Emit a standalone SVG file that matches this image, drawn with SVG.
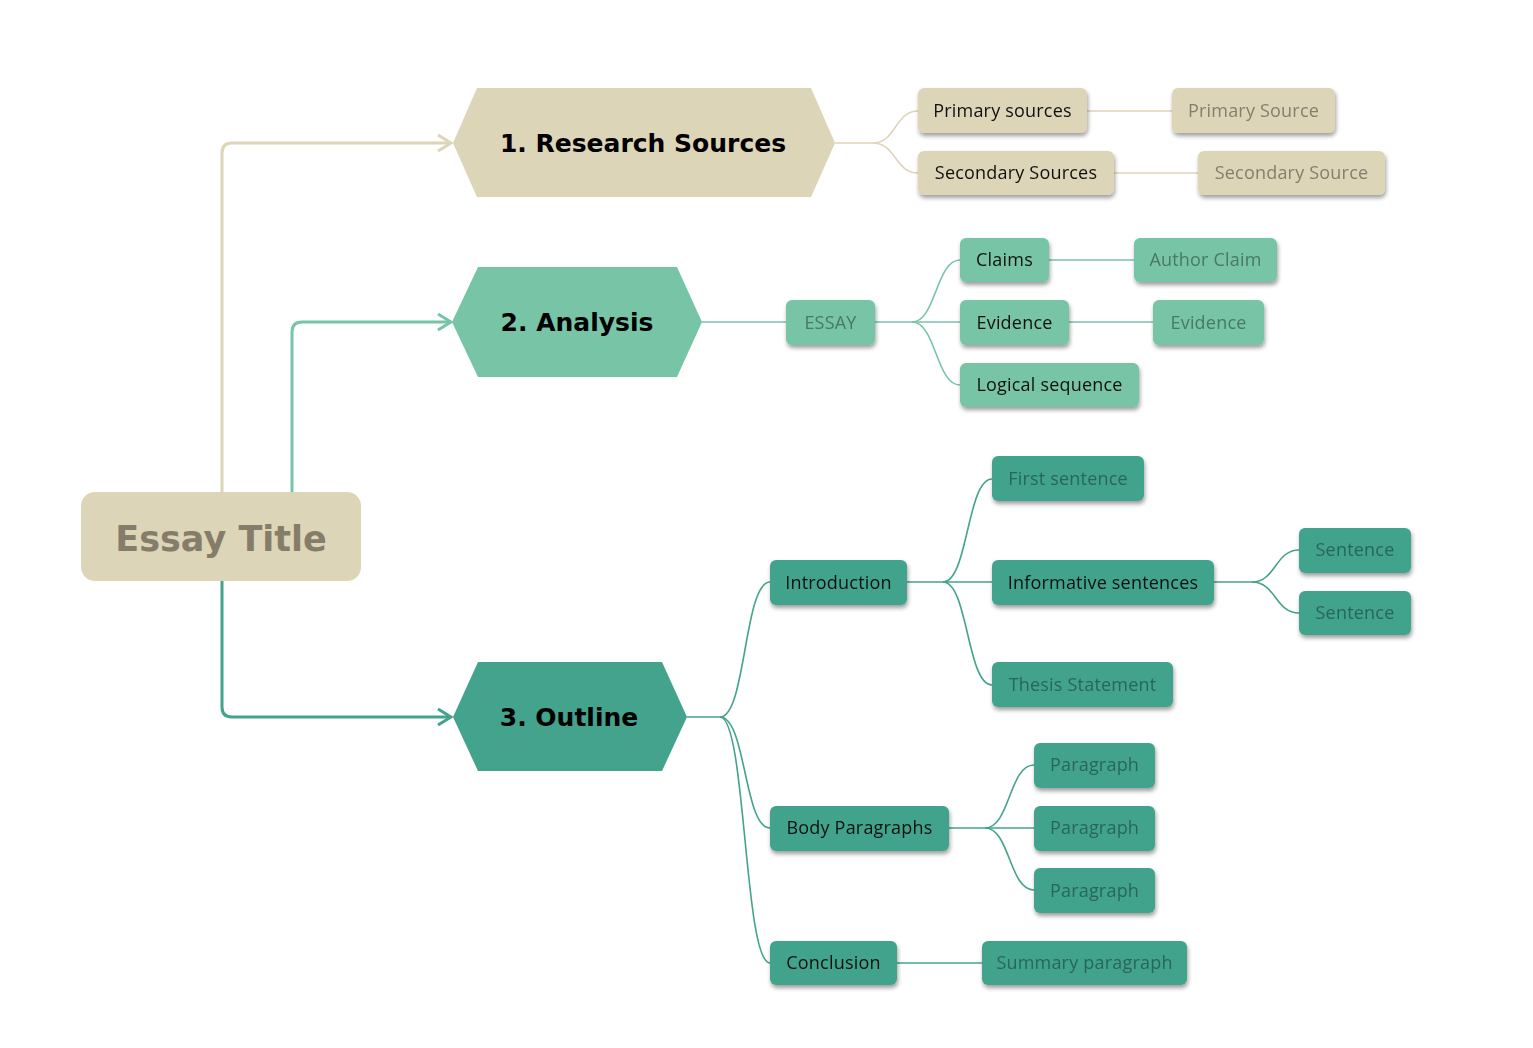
<svg xmlns="http://www.w3.org/2000/svg" width="1533" height="1048" viewBox="0 0 1533 1048">
<defs>
<style>
.hex{font-family:"DejaVu Sans",Verdana,sans-serif;font-weight:bold;font-size:25px;fill:#000;text-anchor:middle}
.t{font-family:"Open Sans","Noto Sans",sans-serif;font-size:18px;letter-spacing:0.2px;text-anchor:middle}
.dk{fill:#111}
.lb{fill:#857e6c}
.lg{fill:#4a7866}
.lt{fill:#28665a}
.fb{fill:#ddd5b8}
.fg{fill:#77c5a6}
.ft{fill:#43a38d}
.cb{fill:none;stroke:#ddd5b8}
.cg{fill:none;stroke:#77c5a6}
.ct{fill:none;stroke:#43a38d}
.thin{stroke-width:1.6}
.thick{stroke-width:3}
</style>
<filter id="sh" x="-10%" y="-20%" width="130%" height="160%">
<feDropShadow dx="1" dy="3" stdDeviation="2" flood-color="#000" flood-opacity="0.38"/>
</filter>
<marker id="ab" markerWidth="16" markerHeight="20" refX="14" refY="10" orient="auto" markerUnits="userSpaceOnUse">
<path d="M1,2 L14,10 L1,18" fill="none" stroke="#ddd5b8" stroke-width="3"/>
</marker>
<marker id="ag" markerWidth="16" markerHeight="20" refX="14" refY="10" orient="auto" markerUnits="userSpaceOnUse">
<path d="M1,2 L14,10 L1,18" fill="none" stroke="#77c5a6" stroke-width="3"/>
</marker>
<marker id="at" markerWidth="16" markerHeight="20" refX="14" refY="10" orient="auto" markerUnits="userSpaceOnUse">
<path d="M1,2 L14,10 L1,18" fill="none" stroke="#43a38d" stroke-width="3"/>
</marker>
</defs>
<rect width="1533" height="1048" fill="#fff"/>

<g id="connectors">
<path class="cb thick" d="M222,492 V153 Q222,143 232,143 H451" marker-end="url(#ab)"/>
<path class="cg thick" d="M292,492 V332 Q292,322 302,322 H451" marker-end="url(#ag)"/>
<path class="ct thick" d="M222,581 V707 Q222,717 232,717 H451" marker-end="url(#at)"/>

<path class="cb thin" d="M835,143 H873 C896,143 895,111 918,111"/>
<path class="cb thin" d="M873,143 C896,143 895,173 918,173"/>
<path class="cb thin" d="M1087,111 H1172"/>
<path class="cb thin" d="M1114,173 H1198"/>

<path class="cg thin" d="M702,322 H786"/>
<path class="cg thin" d="M875,322 H960"/>
<path class="cg thin" d="M912,322 C936,322 936,260 960,260"/>
<path class="cg thin" d="M912,322 C936,322 936,385 960,385"/>
<path class="cg thin" d="M1049,260 H1134"/>
<path class="cg thin" d="M1069,322 H1153"/>

<path class="ct thin" d="M687,717 H720 C746,717 744,582 770,582"/>
<path class="ct thin" d="M720,717 C746,717 744,828 770,828"/>
<path class="ct thin" d="M720,717 C746,717 744,963 770,963"/>
<path class="ct thin" d="M907,582 H992"/>
<path class="ct thin" d="M943,582 C968,582 967,479 992,479"/>
<path class="ct thin" d="M943,582 C968,582 967,685 992,685"/>
<path class="ct thin" d="M1214,582 H1252 C1276,582 1275,550 1299,550"/>
<path class="ct thin" d="M1252,582 C1276,582 1275,613 1299,613"/>
<path class="ct thin" d="M949,828 H1034"/>
<path class="ct thin" d="M985,828 C1010,828 1009,765 1034,765"/>
<path class="ct thin" d="M985,828 C1010,828 1009,890 1034,890"/>
<path class="ct thin" d="M897,963 H982"/>
</g>

<g id="essay-title">
<rect x="81" y="492" width="280" height="89" rx="14" class="fb"/>
<text x="221" y="551" style="font-family:'DejaVu Sans',Verdana,sans-serif;font-weight:bold;font-size:35px;fill:#857d6a;text-anchor:middle">Essay Title</text>
</g>

<g id="research-sources">
<polygon points="453,143 477,88 811,88 835,143 811,197 477,197" class="fb"/>
<text x="643" y="152" class="hex">1. Research Sources</text>
</g>
<g id="analysis">
<polygon points="452,322 478,267 677,267 702,322 677,377 478,377" class="fg"/>
<text x="577" y="331" class="hex">2. Analysis</text>
</g>
<g id="outline">
<polygon points="453,717 478,662 662,662 687,717 662,771 478,771" class="ft"/>
<text x="569" y="726" class="hex">3. Outline</text>
</g>

<g id="primary-sources" filter="url(#sh)"><rect x="918" y="88" width="169" height="45" rx="6" class="fb"/><text x="1002.5" y="117" class="t dk">Primary sources</text></g>
<g id="primary-source" filter="url(#sh)"><rect x="1172" y="88" width="163" height="45" rx="6" class="fb"/><text x="1253.5" y="117" class="t lb">Primary Source</text></g>
<g id="secondary-sources" filter="url(#sh)"><rect x="918" y="151" width="196" height="44" rx="6" class="fb"/><text x="1016" y="179" class="t dk">Secondary Sources</text></g>
<g id="secondary-source" filter="url(#sh)"><rect x="1198" y="151" width="187" height="44" rx="6" class="fb"/><text x="1291.5" y="179" class="t lb">Secondary Source</text></g>

<g id="essay" filter="url(#sh)"><rect x="786" y="300" width="89" height="45" rx="6" class="fg"/><text x="830.5" y="329" class="t lg">ESSAY</text></g>
<g id="claims" filter="url(#sh)"><rect x="960" y="238" width="89" height="44" rx="6" class="fg"/><text x="1004.5" y="266" class="t dk">Claims</text></g>
<g id="author-claim" filter="url(#sh)"><rect x="1134" y="238" width="143" height="44" rx="6" class="fg"/><text x="1205.5" y="266" class="t lg">Author Claim</text></g>
<g id="evidence" filter="url(#sh)"><rect x="960" y="300" width="109" height="45" rx="6" class="fg"/><text x="1014.5" y="329" class="t dk">Evidence</text></g>
<g id="evidence-2" filter="url(#sh)"><rect x="1153" y="300" width="111" height="45" rx="6" class="fg"/><text x="1208.5" y="329" class="t lg">Evidence</text></g>
<g id="logical-sequence" filter="url(#sh)"><rect x="960" y="363" width="179" height="44" rx="6" class="fg"/><text x="1049.5" y="391" class="t dk">Logical sequence</text></g>

<g id="introduction" filter="url(#sh)"><rect x="770" y="560" width="137" height="45" rx="6" class="ft"/><text x="838.5" y="589" class="t dk">Introduction</text></g>
<g id="first-sentence" filter="url(#sh)"><rect x="992" y="456" width="152" height="45" rx="6" class="ft"/><text x="1068" y="485" class="t lt">First sentence</text></g>
<g id="informative-sentences" filter="url(#sh)"><rect x="992" y="560" width="222" height="45" rx="6" class="ft"/><text x="1103" y="589" class="t dk">Informative sentences</text></g>
<g id="sentence-1" filter="url(#sh)"><rect x="1299" y="528" width="112" height="45" rx="6" class="ft"/><text x="1355" y="556" class="t lt">Sentence</text></g>
<g id="sentence-2" filter="url(#sh)"><rect x="1299" y="591" width="112" height="44" rx="6" class="ft"/><text x="1355" y="619" class="t lt">Sentence</text></g>
<g id="thesis-statement" filter="url(#sh)"><rect x="992" y="662" width="181" height="45" rx="6" class="ft"/><text x="1082.5" y="691" class="t lt">Thesis Statement</text></g>
<g id="body-paragraphs" filter="url(#sh)"><rect x="770" y="806" width="179" height="45" rx="6" class="ft"/><text x="859.5" y="834" class="t dk">Body Paragraphs</text></g>
<g id="paragraph-1" filter="url(#sh)"><rect x="1034" y="743" width="121" height="45" rx="6" class="ft"/><text x="1094.5" y="771" class="t lt">Paragraph</text></g>
<g id="paragraph-2" filter="url(#sh)"><rect x="1034" y="806" width="121" height="45" rx="6" class="ft"/><text x="1094.5" y="834" class="t lt">Paragraph</text></g>
<g id="paragraph-3" filter="url(#sh)"><rect x="1034" y="868" width="121" height="45" rx="6" class="ft"/><text x="1094.5" y="897" class="t lt">Paragraph</text></g>
<g id="conclusion" filter="url(#sh)"><rect x="770" y="941" width="127" height="44" rx="6" class="ft"/><text x="833.5" y="969" class="t dk">Conclusion</text></g>
<g id="summary-paragraph" filter="url(#sh)"><rect x="982" y="941" width="205" height="44" rx="6" class="ft"/><text x="1084.5" y="969" class="t lt">Summary paragraph</text></g>
</svg>
